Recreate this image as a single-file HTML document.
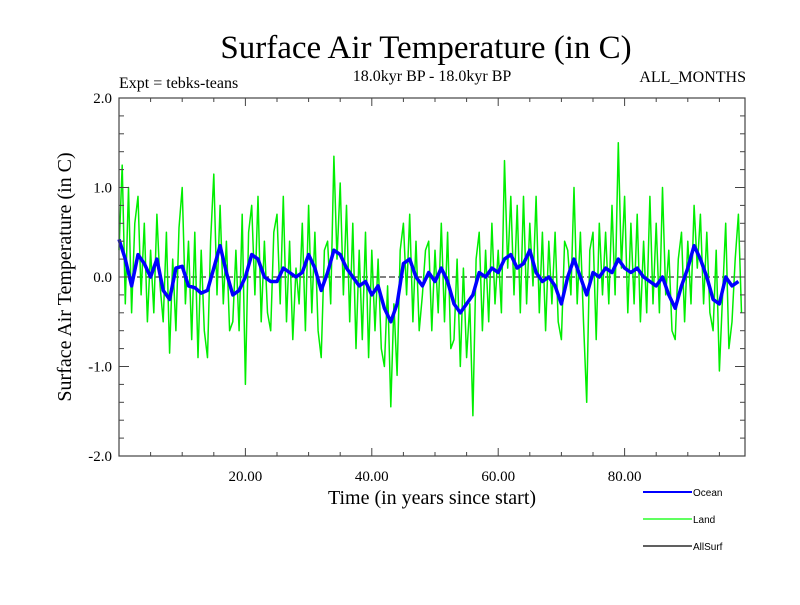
<!DOCTYPE html>
<html><head><meta charset="utf-8"><style>
body{margin:0;background:#fff}
svg text{font-family:"Liberation Serif",serif;fill:#000}
</style></head><body>
<svg id="chart" width="800" height="600" viewBox="0 0 800 600" xmlns="http://www.w3.org/2000/svg">
<text x="426" y="58" font-size="33" text-anchor="middle">Surface Air Temperature (in C)</text>
<text x="432" y="81" font-size="16" text-anchor="middle">18.0kyr BP - 18.0kyr BP</text>
<text x="119" y="88" font-size="16">Expt = tebks-teans</text>
<text x="746" y="82" font-size="16" text-anchor="end">ALL_MONTHS</text>
<text transform="translate(71,277) rotate(-90)" font-size="20" text-anchor="middle">Surface Air Temperature (in C)</text>
<text x="432" y="504" font-size="20" text-anchor="middle">Time (in years since start)</text>
<g id="plot"></g>
<g font-family="Liberation Sans" font-size="10">
<line x1="643" y1="492" x2="692" y2="492" stroke="#0000ff" stroke-width="2"/>
<text x="693" y="496" font-size="10" style="font-family:'Liberation Sans',sans-serif">Ocean</text>
<line x1="643" y1="519" x2="692" y2="519" stroke="#00ff00" stroke-width="1.2"/>
<text x="693" y="523" font-size="10" style="font-family:'Liberation Sans',sans-serif">Land</text>
<line x1="643" y1="546" x2="692" y2="546" stroke="#000" stroke-width="1.2"/>
<text x="693" y="550" font-size="10" style="font-family:'Liberation Sans',sans-serif">AllSurf</text>
</g>
</svg>
<script>
const oceanValues=[0.42,0.2,-0.1,0.25,0.15,0.0,0.2,-0.15,-0.25,0.1,0.12,-0.1,-0.12,-0.18,-0.15,0.1,0.35,0.05,-0.2,-0.15,0.0,0.25,0.2,0.0,-0.05,-0.05,0.1,0.05,0.0,0.05,0.25,0.1,-0.15,0.05,0.3,0.25,0.1,0.0,-0.1,-0.05,-0.2,-0.1,-0.35,-0.5,-0.3,0.15,0.2,0.0,-0.1,0.05,-0.05,0.1,-0.05,-0.3,-0.4,-0.3,-0.2,0.05,0.0,0.1,0.05,0.2,0.25,0.1,0.15,0.3,0.05,-0.05,0.0,-0.1,-0.3,0.0,0.2,0.0,-0.2,0.05,0.0,0.1,0.05,0.2,0.1,0.05,0.1,0.0,-0.05,-0.1,0.0,-0.2,-0.35,-0.1,0.1,0.35,0.2,0.0,-0.25,-0.3,0.0,-0.1,-0.05];
const allSurfValues=oceanValues.slice();
const landValues=[0.3,1.25,-0.3,1.0,-0.4,0.6,0.9,-0.2,0.6,-0.5,0.3,-0.4,0.7,-0.1,-0.5,0.5,-0.85,0.2,-0.6,0.55,1.0,-0.3,0.4,-0.7,0.5,-0.9,0.3,-0.6,-0.9,0.4,1.15,-0.2,0.8,-0.3,0.4,-0.6,-0.5,0.3,-0.6,0.7,-1.2,0.5,0.8,-0.2,0.9,-0.5,0.4,-0.4,-0.6,0.5,0.7,-0.3,0.9,-0.5,0.4,-0.7,0.1,-0.3,0.6,-0.6,0.8,-0.4,0.5,-0.6,-0.9,0.3,0.4,-0.3,1.35,0.2,1.05,-0.2,0.8,-0.5,0.6,-0.8,0.3,-0.7,0.5,-0.9,0.3,-0.6,0.2,-0.8,-1.0,-0.1,-1.45,-0.3,-1.1,0.3,0.6,-0.2,0.7,-0.5,0.4,-0.6,-0.2,0.3,0.4,-0.6,0.3,-0.4,0.6,-0.5,0.5,-0.8,-0.7,0.2,-1.0,0.1,-0.9,-0.3,-1.55,0.2,0.5,-0.6,0.3,-0.5,0.6,-0.3,0.3,-0.4,1.3,0.1,0.9,-0.2,0.8,-0.4,0.9,-0.3,0.6,-0.1,0.9,-0.4,0.5,-0.6,0.4,-0.3,0.5,-0.5,-0.7,0.4,0.3,-0.2,1.0,-0.3,0.5,-0.5,-1.4,0.3,0.5,-0.7,0.6,-0.2,0.5,-0.3,0.8,-0.2,1.5,0.1,0.9,-0.4,0.6,-0.3,0.7,-0.5,0.4,-0.4,0.9,-0.3,0.6,-0.4,1.0,-0.2,0.3,-0.6,-0.7,0.2,0.5,-0.5,0.4,-0.3,0.8,0.1,0.7,-0.3,0.5,-0.4,-0.6,0.3,-1.05,-0.2,0.6,-0.8,-0.5,0.2,0.7,-0.4];
const yTickValues=[2.0,1.0,0.0,-1.0,-2.0];
const yTickLabels=["2.0","1.0","0.0","-1.0","-2.0"];
const xTickValues=[20,40,60,80];
const xTickLabels=["20.00","40.00","60.00","80.00"];

const L=119,R=745,T=98,B=456;
const xs=v=>L+v*6.32;
const ys=v=>277-v*89.5;
const NS="http://www.w3.org/2000/svg";
const g=document.getElementById('plot');
function mk(tag,attrs){const e=document.createElementNS(NS,tag);for(const k in attrs)e.setAttribute(k,attrs[k]);g.appendChild(e);return e;}

const zero=mk('line',{x1:L,y1:ys(0),x2:R,y2:ys(0),stroke:'#000','stroke-width':1,'stroke-dasharray':'6,3'});



function series(vals,step,color,w,name){
  const p=vals.map((v,i)=>xs(i*step).toFixed(1)+','+ys(v).toFixed(1)).join(' ');
  const e=mk('polyline',{points:p,fill:'none',stroke:color,'stroke-width':w,'stroke-linejoin':'round'});
  
  
}
series(landValues,0.5,'#00ee00',1.5,'land-series');
series(allSurfValues,1,'#000',1,'allsurf-series');
series(oceanValues,1,'#0000ff',3.5,'ocean-series');

const frame=mk('rect',{x:L,y:T,width:R-L,height:B-T,fill:'none',stroke:'#444','stroke-width':1.2});



for(let v=-2;v<=2.001;v+=0.2){
  const major=Math.abs(v-Math.round(v))<1e-6;
  const len=major?10:5;
  const t1=mk('line',{x1:L,y1:ys(v),x2:L+len,y2:ys(v),stroke:'#444'});
  
  
  const t2=mk('line',{x1:R,y1:ys(v),x2:R-len,y2:ys(v),stroke:'#444'});
  
  
}
yTickValues.forEach((v,i)=>{
  const t=mk('text',{x:L-7,y:ys(v)+5,'font-size':15,'text-anchor':'end'});
  t.textContent=yTickLabels[i];
  
  
});
for(let v=5;v<99;v+=5){
  const major=v%20===0;
  const len=major?8:4;
  const t=mk('line',{x1:xs(v),y1:B,x2:xs(v),y2:B-len,stroke:'#444'});
  
  
  const t2=mk('line',{x1:xs(v),y1:T,x2:xs(v),y2:T+len,stroke:'#444'});
  
  
}
xTickValues.forEach((v,i)=>{
  const t=mk('text',{x:xs(v),y:481,'font-size':15,'text-anchor':'middle'});
  t.textContent=xTickLabels[i];
  
  
});
</script>
</body></html>
